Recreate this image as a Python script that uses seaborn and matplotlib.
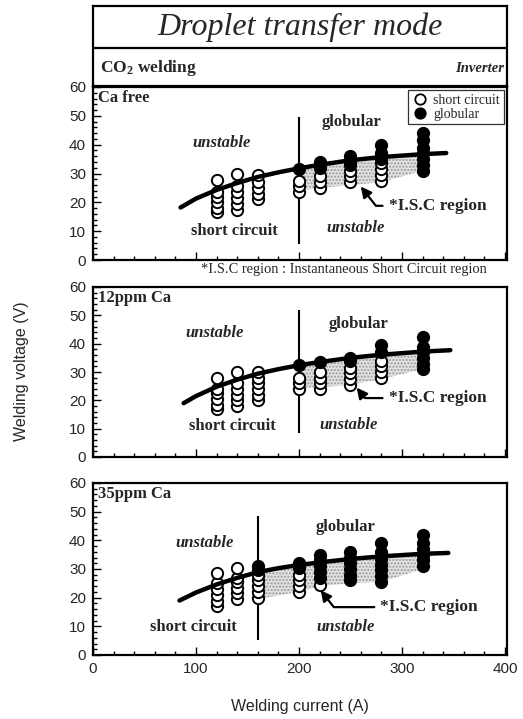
import numpy as np
import pandas as pd
import matplotlib.pyplot as plt
import seaborn as sns
from matplotlib.lines import Line2D
from matplotlib.ticker import MultipleLocator

# ---- data ----
panel_names = ['Ca free', '12ppm Ca', '35ppm Ca']

# welding voltage of each droplet observation, grouped by welding current (A)
free_short = {120: [16.5, 18.2, 20, 21.8, 23.6, 27.6], 140: [17.5, 19.5, 21.5, 23.5, 25.5, 30],
              160: [21, 23, 25, 27, 29.5], 200: [23.5, 25.5, 27.5], 220: [25, 27, 29],
              250: [27, 29, 31], 280: [27.5, 29.5, 31.5, 33.5]}
free_glob = {200: [31.7], 220: [32, 34], 250: [33, 34.5, 36.2], 280: [35, 37, 39.8],
             320: [31, 33, 35, 37, 39, 41.5, 44]}

ppm12_short = {120: [17, 18.5, 20.5, 22.5, 24, 28], 140: [18, 20, 22, 24, 26, 30],
               160: [20, 22, 24, 26, 28, 30], 200: [24, 26, 28], 220: [24, 26, 28, 30],
               250: [25.5, 27.5, 29.5, 31.5], 280: [28, 30, 32, 34]}
ppm12_glob = {200: [32.5], 220: [33.5], 250: [34, 35], 280: [37, 39.5],
              320: [31, 33, 35, 37, 39, 42.5]}

ppm35_short = {120: [17, 19, 21, 23, 25, 28.5], 140: [19.5, 21.5, 23.5, 25.5, 27, 30.5],
               160: [20, 22, 24, 26, 28], 200: [22, 24, 26, 28], 220: [24.5]}
ppm35_glob = {160: [29.5, 31], 200: [30.5, 32], 220: [27, 29, 31, 33, 35],
              250: [26, 28, 30, 32, 34, 36], 280: [25.5, 27.5, 29.5, 31.5, 33.5, 36, 39],
              320: [31, 33, 35, 37, 39, 42]}

# short circuit / globular boundary curves
free_curve_I = [85, 100, 120, 140, 160, 180, 200, 220, 250, 280, 320, 343]
free_curve_V = [18.2, 21.3, 24.3, 26.7, 28.8, 30.4, 31.8, 33.0, 34.6, 35.7, 36.7, 37.1]
ppm12_curve_I = [88, 100, 120, 140, 160, 180, 200, 220, 250, 280, 320, 347]
ppm12_curve_V = [19, 21.5, 24.8, 27.3, 29.4, 31, 32.4, 33.5, 35, 36.1, 37.2, 37.7]
ppm35_curve_I = [84, 100, 120, 140, 160, 180, 200, 220, 250, 280, 320, 345]
ppm35_curve_V = [19, 21.8, 24.6, 26.9, 28.9, 30.3, 31.4, 32.3, 33.5, 34.4, 35.3, 35.6]

# *I.S.C region (shaded band under the curve)
free_isc_I = [200, 220, 250, 280, 320]
free_isc_top = [31.8, 33.0, 34.6, 35.7, 36.7]
free_isc_low = [24, 25, 26, 27, 31]
ppm12_isc_I = [200, 220, 250, 280, 320]
ppm12_isc_top = [32.4, 33.5, 35, 36.1, 37.2]
ppm12_isc_low = [24.5, 24.5, 25.5, 27.5, 31]
ppm35_isc_I = [160, 200, 220, 250, 280, 320]
ppm35_isc_top = [28.9, 31.4, 32.3, 33.5, 34.4, 35.3]
ppm35_isc_low = [19.5, 22, 24, 25, 25.5, 30]

# vertical stable/unstable boundary
boundary_I = [200, 200, 160]
boundary_lo = [5.5, 8.5, 5.2]
boundary_hi = [49.5, 52, 48.4]

x_ticks = [0, 100, 200, 300, 400]
y_ticks = [0, 10, 20, 30, 40, 50, 60]


def to_frame(cols):
    rows = [(i, v) for i, vs in cols.items() for v in vs]
    return pd.DataFrame(rows, columns=['current', 'voltage'])


shorts = [free_short, ppm12_short, ppm35_short]
globs = [free_glob, ppm12_glob, ppm35_glob]
curves = [(free_curve_I, free_curve_V), (ppm12_curve_I, ppm12_curve_V), (ppm35_curve_I, ppm35_curve_V)]
iscs = [(free_isc_I, free_isc_top, free_isc_low), (ppm12_isc_I, ppm12_isc_top, ppm12_isc_low),
        (ppm35_isc_I, ppm35_isc_top, ppm35_isc_low)]

# label placement per panel: unstable(top), globular, short circuit, unstable(bottom), ISC text, ISC arrow head
labels_pos = [
    dict(unst1=(125, 40.5), glob=(251, 47.8), sc=(137, 10), unst2=(255, 11), isc=(287, 18.8), head=(260, 25.5)),
    dict(unst1=(118, 43.8), glob=(258, 47), sc=(135, 11), unst2=(248, 11.3), isc=(287, 20.8), head=(256, 24.5)),
    dict(unst1=(108, 39), glob=(245, 44.6), sc=(97, 9.8), unst2=(245, 9.8), isc=(279, 16.7), head=(221, 22.6)),
]

sns.set_style('ticks')
plt.rcParams['font.family'] = ['Liberation Sans', 'DejaVu Sans']
plt.rcParams['mathtext.fontset'] = 'custom'
plt.rcParams['mathtext.rm'] = 'Liberation Serif'
plt.rcParams['mathtext.bf'] = 'Liberation Serif:bold'
plt.rcParams['mathtext.it'] = 'Liberation Serif:italic'
serif = ['Liberation Serif', 'DejaVu Serif']

fig = plt.figure(figsize=(5.23, 7.19), dpi=100)
W, H = 523.0, 719.0
left, right = 93, 507


def box(top, bottom):
    return [left / W, 1 - bottom / H, (right - left) / W, (bottom - top) / H]


# header box
hdr = fig.add_axes(box(6, 86))
hdr.set_xticks([])
hdr.set_yticks([])
hdr.set_xlim(0, 1)
hdr.set_ylim(0, 1)
for s in hdr.spines.values():
    s.set_linewidth(1.6)
    s.set_color('black')
hdr.axhline(0.475, color='black', lw=1.6)
hdr.text(0.5, 0.74, 'Droplet transfer mode', family=serif, style='italic', fontsize=23,
         ha='center', va='center')
hdr.text(0.017, 0.225, r'CO$_\mathbf{2}$ welding', family=serif, weight='bold', fontsize=12.5,
         ha='left', va='center')
hdr.text(0.993, 0.225, 'Inverter', family=serif, weight='bold', style='italic', fontsize=10.5,
         ha='right', va='center')

panel_boxes = [box(87, 260), box(287, 457), box(483, 655)]
axes = [fig.add_axes(b) for b in panel_boxes]

for k, ax in enumerate(axes):
    xi, top, low = iscs[k]
    ax.fill_between(xi, low, top, facecolor='#e2e2e2', edgecolor='#9a9a9a', hatch='.....',
                    linewidth=0, zorder=1)
    ax.vlines(boundary_I[k], boundary_lo[k], boundary_hi[k], color='black', lw=1.5, zorder=2)
    sns.scatterplot(data=to_frame(shorts[k]), x='current', y='voltage', ax=ax, s=66,
                    color='white', edgecolor='black', linewidth=1.4, zorder=3)
    sns.scatterplot(data=to_frame(globs[k]), x='current', y='voltage', ax=ax, s=66,
                    color='black', edgecolor='black', linewidth=1.4, zorder=4)
    cx, cy = curves[k]
    sns.lineplot(x=cx, y=cy, ax=ax, color='black', lw=3.2, sort=False, estimator=None, zorder=5)

    ax.set_xlim(0, 402)
    ax.set_ylim(0, 60)
    ax.set_xlabel('')
    ax.set_ylabel('')
    ax.set_xticks(x_ticks)
    ax.set_yticks(y_ticks)
    ax.xaxis.set_minor_locator(MultipleLocator(20))
    ax.yaxis.set_minor_locator(MultipleLocator(2))
    ax.tick_params(which='both', direction='in', top=False, right=False, color='black', width=1)
    ax.tick_params(which='major', length=6, labelsize=11, pad=5)
    ax.tick_params(which='minor', length=3)
    if k < 2:
        ax.tick_params(axis='x', labelbottom=False)
    for s in ax.spines.values():
        s.set_visible(True)
        s.set_linewidth(1.6)
        s.set_color('black')

    p = labels_pos[k]
    ax.text(0.012, 0.985, panel_names[k], transform=ax.transAxes, family=serif, weight='bold',
            fontsize=12, ha='left', va='top')
    ax.text(*p['unst1'], 'unstable', family=serif, weight='bold', style='italic', fontsize=12,
            ha='center', va='center')
    ax.text(*p['glob'], 'globular', family=serif, weight='bold', fontsize=12, ha='center', va='center')
    ax.text(*p['sc'], 'short circuit', family=serif, weight='bold', fontsize=12, ha='center', va='center')
    ax.text(*p['unst2'], 'unstable', family=serif, weight='bold', style='italic', fontsize=12,
            ha='center', va='center')
    ax.annotate('*I.S.C region', xy=p['head'], xytext=p['isc'], family=serif, weight='bold',
                fontsize=12.5, ha='left', va='center', zorder=6,
                arrowprops=dict(arrowstyle='-|>', connectionstyle='angle,angleA=0,angleB=128',
                                color='black', lw=1.6, mutation_scale=16, shrinkA=2, shrinkB=0,
                                relpos=(0, 0.5)))

axes[2].tick_params(axis='x', labelsize=11)

# legend in the first panel
handles = [Line2D([], [], ls='', marker='o', ms=7.5, mfc='white', mec='black', mew=1.3),
           Line2D([], [], ls='', marker='o', ms=7.5, mfc='black', mec='black', mew=1.3)]
leg = axes[0].legend(handles, ['short circuit', 'globular'], loc='upper right',
                     prop={'family': serif, 'size': 10}, frameon=True, fancybox=False,
                     borderaxespad=0.25, borderpad=0.25, handlelength=1.2, handletextpad=0.4,
                     labelspacing=0.05)
leg.get_frame().set_edgecolor('black')
leg.get_frame().set_linewidth(0.9)

fig.text(344 / W, 1 - 270 / H, '*I.S.C region : Instantaneous Short Circuit region',
         family=serif, fontsize=10.4, ha='center', va='center')
fig.text(22 / W, 1 - 371 / H, 'Welding voltage (V)', rotation=90, fontsize=11.5,
         ha='center', va='center')
fig.text(300 / W, 1 - 706 / H, 'Welding current (A)', fontsize=11.5, ha='center', va='center')

fig.savefig('out.png', dpi=100)
